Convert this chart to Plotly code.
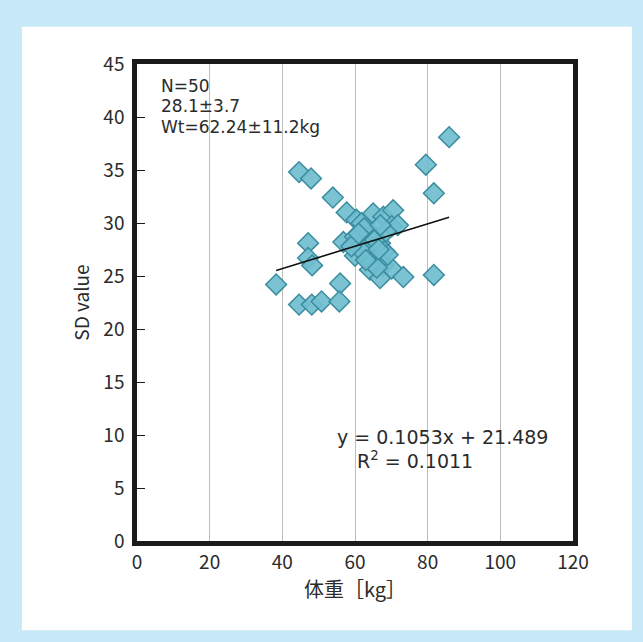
import plotly.graph_objects as go

# Body weight [kg] and SD value for each subject
weight_kg = [38.3, 44.6, 47.9, 53.9, 47.1, 47.1, 48.2, 44.6, 48.1, 50.8,
             55.9, 55.7, 57.7, 60.4, 56.8, 60.0, 60.0, 62.3, 65.0, 67.8,
             70.5, 70.1, 65.0, 66.9, 65.0, 68.2, 64.1, 67.8, 66.9, 70.1,
             73.3, 79.5, 81.7, 81.7, 85.9, 61.8, 71.8, 62.5, 63.5, 64.5,
             65.5, 66.0, 62.0, 63.0, 68.5, 69.0, 59.0, 61.0, 66.5, 67.0]
sd_value = [24.2, 34.8, 34.2, 32.4, 28.1, 26.7, 26.0, 22.3, 22.3, 22.6,
            24.3, 22.6, 31.0, 30.3, 28.2, 26.9, 28.7, 28.2, 30.9, 30.6,
            31.2, 29.7, 28.9, 28.1, 27.0, 27.3, 25.6, 26.0, 24.8, 25.7,
            24.9, 35.5, 32.8, 25.1, 38.1, 30.0, 29.8, 29.5, 27.8, 26.3,
            28.4, 25.8, 27.3, 26.5, 29.2, 27.0, 27.8, 29.0, 27.5, 29.8]

# Regression shown on the chart
slope = 0.1053
intercept = 21.489
r_squared = 0.1011

stats_lines = ["N=50", "28.1±3.7", "Wt=62.24±11.2kg"]
x_ticks = [0, 20, 40, 60, 80, 100, 120]
y_ticks = [0, 5, 10, 15, 20, 25, 30, 35, 40, 45]

FONT = "Noto Sans CJK JP, Noto Sans, sans-serif"
EQ_FONT = "DejaVu Sans, sans-serif"
TXT = "#2b2b2b"

x_line = [min(weight_kg), max(weight_kg)]
y_line = [slope * v + intercept for v in x_line]

fig = go.Figure()
fig.add_trace(go.Scatter(
    x=weight_kg, y=sd_value, mode="markers",
    marker=dict(symbol="diamond", size=16, color="rgba(112,190,207,0.92)",
                line=dict(color="#3a8d9f", width=1.5)),
    showlegend=False, hoverinfo="x+y"))
fig.add_trace(go.Scatter(
    x=x_line, y=y_line, mode="lines",
    line=dict(color="#111111", width=1.6),
    showlegend=False, hoverinfo="skip"))

fig.update_layout(
    width=643, height=642,
    margin=dict(l=137, r=70, t=64, b=101),
    paper_bgcolor="#c7e9f8",
    plot_bgcolor="white",
    font=dict(family=FONT, size=19, color=TXT),
    shapes=[dict(type="rect", xref="paper", yref="paper",
                 x0=-0.264, x1=1.135, y0=-0.187, y1=1.078,
                 fillcolor="white", line=dict(width=0), layer="below")],
)
fig.update_xaxes(
    range=[0, 120], tickvals=x_ticks, ticks="", ticklen=0, showgrid=True,
    gridcolor="#bdbdbd", gridwidth=1.2, zeroline=False, automargin=False,
    showline=True, mirror=True, linecolor="#1a1a1a", linewidth=4.5,
    tickfont=dict(size=19, color=TXT), ticklabelstandoff=0,
    title=dict(text="体重［kg］", font=dict(size=20, color=TXT), standoff=0))
fig.update_yaxes(
    range=[0, 45], tickvals=y_ticks, ticks="inside", ticklen=8,
    tickcolor="#1a1a1a", tickwidth=1.2, showgrid=False, zeroline=False,
    automargin=False,
    showline=True, mirror=True, linecolor="#1a1a1a", linewidth=4.5,
    tickfont=dict(size=19, color=TXT), ticklabelstandoff=4,
    title=dict(text="SD value", font=dict(size=19, color=TXT), standoff=10))

stats_y = [42.95, 41.0, 39.05]
for line, yy in zip(stats_lines, stats_y):
    fig.add_annotation(x=6.0, y=yy, xref="x", yref="y", xanchor="left", yanchor="middle",
                       text=line, showarrow=False, align="left",
                       font=dict(family=EQ_FONT, size=17, color=TXT))
fig.add_annotation(x=54.5, y=9.8, xref="x", yref="y", xanchor="left", yanchor="middle",
                   text=f"y = {slope}x + {intercept}", showarrow=False,
                   font=dict(family=EQ_FONT, size=19, color=TXT))
fig.add_annotation(x=60.0, y=7.6, xref="x", yref="y", xanchor="left", yanchor="middle",
                   text=f"R<sup>2</sup> = {r_squared}", showarrow=False,
                   font=dict(family=EQ_FONT, size=19, color=TXT))

fig.write_html("out.html", config={"displayModeBar": False},
               post_script="document.body.style.margin='0';")
